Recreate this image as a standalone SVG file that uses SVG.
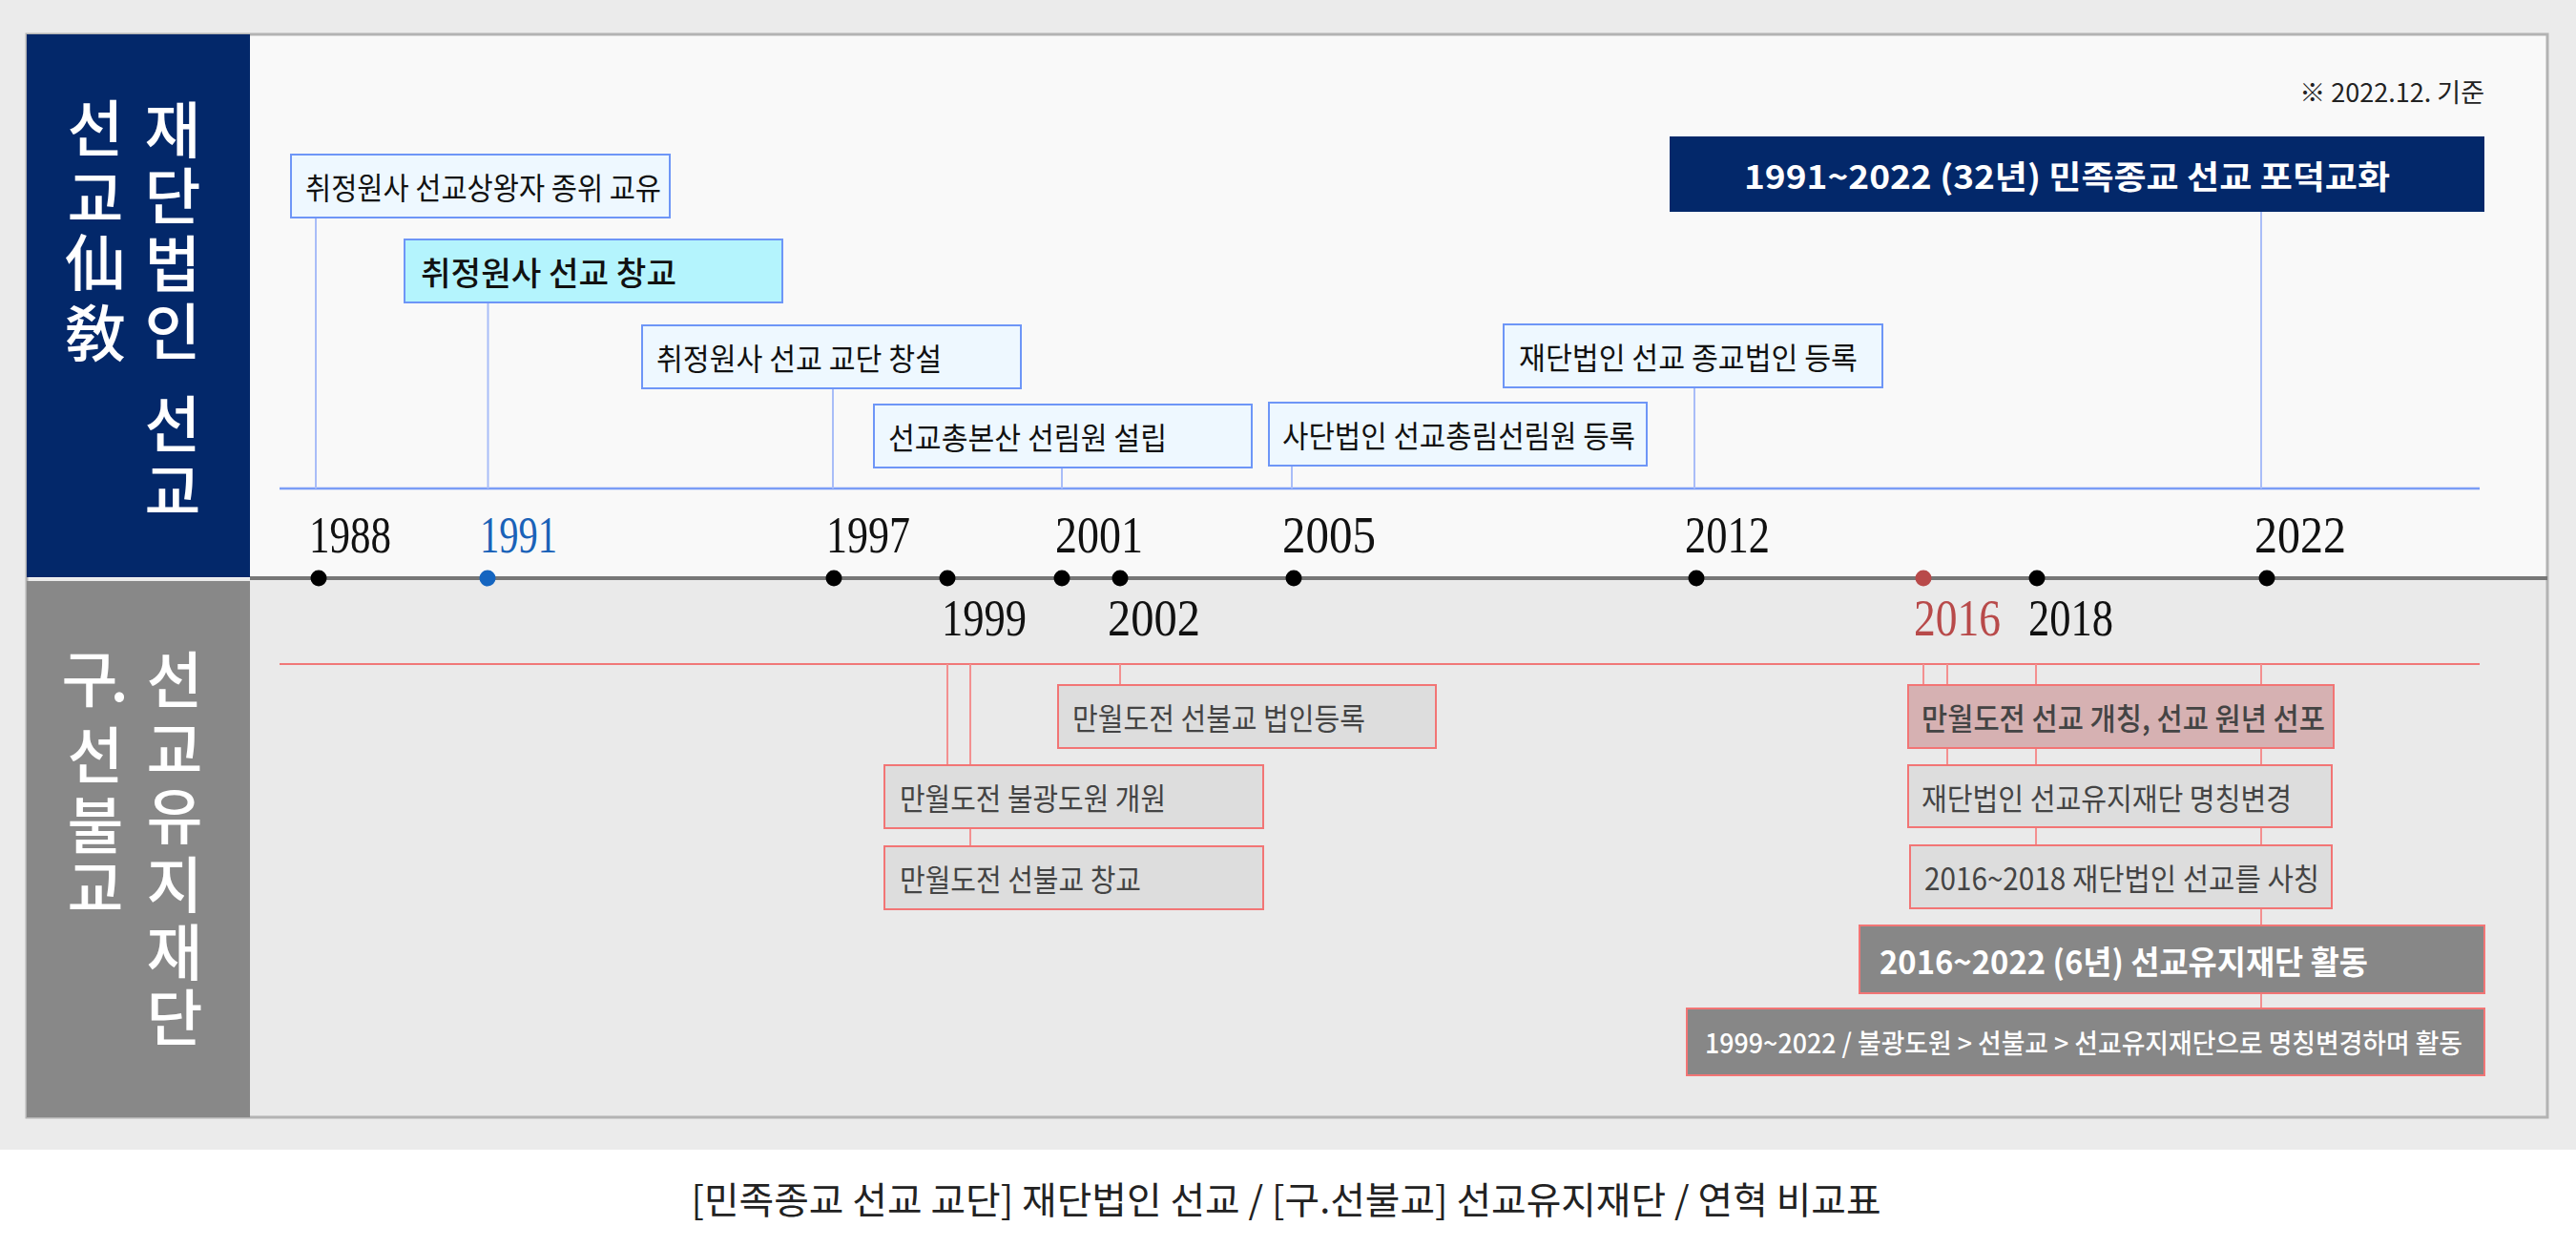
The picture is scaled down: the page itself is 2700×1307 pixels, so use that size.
<svg xmlns="http://www.w3.org/2000/svg" width="2700" height="1307" viewBox="0 0 2700 1307">
<style>
.kr{font-family:"Noto Sans CJK KR","Noto Sans",sans-serif;}
.yr{font-family:"Liberation Serif",serif;font-size:54px;fill:#111;}
.bt{font-family:"Noto Sans CJK KR","Noto Sans",sans-serif;font-size:32px;fill:#111;dominant-baseline:central;}
.rt{font-family:"Noto Sans CJK KR","Noto Sans",sans-serif;font-size:32px;fill:#444;dominant-baseline:central;}
.wt{font-family:"Noto Sans CJK KR","Noto Sans",sans-serif;font-size:34px;fill:#fff;font-weight:700;dominant-baseline:central;}
.vt{font-family:"Noto Sans CJK KR","Noto Sans",sans-serif;font-size:64px;fill:#fff;font-weight:500;text-anchor:middle;dominant-baseline:central;}
.bbox{fill:#eef8ff;stroke:#6e96f7;stroke-width:2;}
.rbox{fill:#dddddd;stroke:#f27575;stroke-width:2;}
.dbox{fill:#878787;stroke:#f27575;stroke-width:2;}
.bl{stroke:#a9bdf8;stroke-width:2;fill:none;}
.rl{stroke:#f39090;stroke-width:2;fill:none;}
.dot{fill:#000;}
</style>
<rect x="0" y="0" width="2700" height="1205" fill="#ebebeb"/>
<rect x="0" y="1205" width="2700" height="102" fill="#ffffff"/>
<rect x="28" y="36" width="2642" height="570" fill="#f9f9f9"/>
<rect x="28" y="606" width="2642" height="565" fill="#eaeaea"/>
<rect x="28" y="36" width="2642" height="1135" fill="none" stroke="#b3b3b3" stroke-width="3"/>

<g id="panel-top">
<rect x="28" y="36" width="234" height="569" fill="#03286a"/>
<text class="vt" x="100 100 100 100" y="130 204 271 345">선교仙敎</text>
<text class="vt" x="181 181 181 181 181 181" y="132 201 272 343 440 511">재단법인선교</text>
</g>
<g id="panel-bottom">
<rect x="28" y="609" width="234" height="562" fill="#888888"/>
<text class="vt" x="94 125 100 100 100" y="707 707 787 861 927">구.선불교</text>
<text class="vt" x="183 183 183 183 183 183" y="708 782 851 923 994 1062">선교유지재단</text>
</g>

<g id="connectors">
<line x1="262" y1="606" x2="2670" y2="606" stroke="#777" stroke-width="4"/>
<line x1="293" y1="512" x2="2599" y2="512" stroke="#7b9df6" stroke-width="2.5"/>
<line x1="293" y1="696" x2="2599" y2="696" stroke="#f07878" stroke-width="2"/>
<line class="bl" x1="331" y1="228" x2="331" y2="512"/>
<line class="bl" x1="511.5" y1="317" x2="511.5" y2="512"/>
<line class="bl" x1="873" y1="407" x2="873" y2="512"/>
<line class="bl" x1="1113" y1="490" x2="1113" y2="512"/>
<line class="bl" x1="1354" y1="488" x2="1354" y2="512"/>
<line class="bl" x1="1776" y1="406" x2="1776" y2="512"/>
<line class="bl" x1="2370" y1="222" x2="2370" y2="512"/>
<line class="rl" x1="993" y1="696" x2="993" y2="802"/>
<line class="rl" x1="1017" y1="696" x2="1017" y2="887"/>
<line class="rl" x1="1174" y1="696" x2="1174" y2="718"/>
<line class="rl" x1="2016" y1="696" x2="2016" y2="718"/>
<line class="rl" x1="2041" y1="696" x2="2041" y2="802"/>
<line class="rl" x1="2134" y1="696" x2="2134" y2="886"/>
<line class="rl" x1="2370" y1="696" x2="2370" y2="1057"/>
</g>

<g id="dots">
<circle class="dot" cx="334" cy="606" r="8.5"/>
<circle cx="511" cy="606" r="8.5" fill="#1565c0"/>
<circle class="dot" cx="874" cy="606" r="8.5"/>
<circle class="dot" cx="993" cy="606" r="8.5"/>
<circle class="dot" cx="1113" cy="606" r="8.5"/>
<circle class="dot" cx="1174" cy="606" r="8.5"/>
<circle class="dot" cx="1356" cy="606" r="8.5"/>
<circle class="dot" cx="1778" cy="606" r="8.5"/>
<circle cx="2016" cy="606" r="8.5" fill="#b84a4a"/>
<circle class="dot" cx="2135" cy="606" r="8.5"/>
<circle class="dot" cx="2376" cy="606" r="8.5"/>
</g>

<g id="years">
<text class="yr" x="324" y="579" textLength="86" lengthAdjust="spacingAndGlyphs">1988</text>
<text class="yr" x="503" y="579" textLength="81" lengthAdjust="spacingAndGlyphs" style="fill:#1a62b8">1991</text>
<text class="yr" x="866" y="579" textLength="88" lengthAdjust="spacingAndGlyphs">1997</text>
<text class="yr" x="1106" y="579" textLength="92" lengthAdjust="spacingAndGlyphs">2001</text>
<text class="yr" x="1344" y="579" textLength="98" lengthAdjust="spacingAndGlyphs">2005</text>
<text class="yr" x="1766" y="579" textLength="89" lengthAdjust="spacingAndGlyphs">2012</text>
<text class="yr" x="2363" y="579" textLength="96" lengthAdjust="spacingAndGlyphs">2022</text>
<text class="yr" x="987" y="666" textLength="89" lengthAdjust="spacingAndGlyphs">1999</text>
<text class="yr" x="1161" y="666" textLength="97" lengthAdjust="spacingAndGlyphs">2002</text>
<text class="yr" x="2006" y="666" textLength="91" lengthAdjust="spacingAndGlyphs" style="fill:#b84a4a">2016</text>
<text class="yr" x="2126" y="666" textLength="89" lengthAdjust="spacingAndGlyphs">2018</text>
</g>

<text class="kr" x="2604" y="95" font-size="27" fill="#222" text-anchor="end" dominant-baseline="central">※ 2022.12. 기준</text>

<g id="n1988">
<rect class="bbox" x="305" y="162" width="397" height="66"/>
<text class="bt" x="320" y="195" textLength="373" lengthAdjust="spacingAndGlyphs">취정원사 선교상왕자 종위 교유</text>
</g>
<g id="n1991">
<rect class="bbox" x="424" y="251" width="396" height="66" style="fill:#b4f4fd"/>
<text class="bt" x="441" y="284" textLength="268" lengthAdjust="spacingAndGlyphs" style="font-size:34px;font-weight:500">취정원사 선교 창교</text>
</g>
<g id="n1997">
<rect class="bbox" x="673" y="341" width="397" height="66"/>
<text class="bt" x="688" y="374" textLength="299" lengthAdjust="spacingAndGlyphs">취정원사 선교 교단 창설</text>
</g>
<g id="n2001">
<rect class="bbox" x="916" y="424" width="396" height="66"/>
<text class="bt" x="931" y="457" textLength="292" lengthAdjust="spacingAndGlyphs">선교총본산 선림원 설립</text>
</g>
<g id="n2005">
<rect class="bbox" x="1330" y="422" width="396" height="66"/>
<text class="bt" x="1344" y="455" textLength="370" lengthAdjust="spacingAndGlyphs">사단법인 선교총림선림원 등록</text>
</g>
<g id="n2012">
<rect class="bbox" x="1576" y="340" width="397" height="66"/>
<text class="bt" x="1592" y="373" textLength="355" lengthAdjust="spacingAndGlyphs">재단법인 선교 종교법인 등록</text>
</g>
<g id="n2022">
<rect x="1750" y="143" width="854" height="79" fill="#03286a"/>
<text class="wt" x="1828" y="183" textLength="677" lengthAdjust="spacingAndGlyphs">1991~2022 (32년)  민족종교 선교 포덕교화</text>
</g>

<g id="n2002b">
<rect class="rbox" x="1109" y="718" width="396" height="66"/>
<text class="rt" x="1124" y="751" textLength="307" lengthAdjust="spacingAndGlyphs">만월도전 선불교 법인등록</text>
</g>
<g id="n1999a">
<rect class="rbox" x="927" y="802" width="397" height="66"/>
<text class="rt" x="943" y="835" textLength="279" lengthAdjust="spacingAndGlyphs">만월도전 불광도원 개원</text>
</g>
<g id="n1999b">
<rect class="rbox" x="927" y="887" width="397" height="66"/>
<text class="rt" x="943" y="920" textLength="253" lengthAdjust="spacingAndGlyphs">만월도전 선불교 창교</text>
</g>
<g id="n2016a">
<rect class="rbox" x="2000" y="718" width="446" height="66" style="fill:#d6b1b2"/>
<text class="rt" x="2014" y="751" textLength="423" lengthAdjust="spacingAndGlyphs" style="font-weight:500">만월도전 선교 개칭, 선교 원년 선포</text>
</g>
<g id="n2016b">
<rect class="rbox" x="2000" y="802" width="444" height="65"/>
<text class="rt" x="2014" y="835" textLength="388" lengthAdjust="spacingAndGlyphs">재단법인 선교유지재단 명칭변경</text>
</g>
<g id="n2018">
<rect class="rbox" x="2002" y="886" width="442" height="66"/>
<text class="rt" x="2017" y="919" textLength="414" lengthAdjust="spacingAndGlyphs">2016~2018 재단법인 선교를 사칭</text>
</g>
<g id="n2016c">
<rect class="dbox" x="1949" y="970" width="655" height="71"/>
<text class="wt" x="1970" y="1006" textLength="512" lengthAdjust="spacingAndGlyphs">2016~2022 (6년) 선교유지재단 활동</text>
</g>
<g id="n1999c">
<rect class="dbox" x="1768" y="1057" width="836" height="70"/>
<text class="wt" x="1787" y="1092" textLength="794" lengthAdjust="spacingAndGlyphs" style="font-size:28px;font-weight:500">1999~2022 / 불광도원 &gt; 선불교 &gt; 선교유지재단으로 명칭변경하며 활동</text>
</g>

<text class="kr" x="1348" y="1255" font-size="39" fill="#222" text-anchor="middle" dominant-baseline="central" textLength="1247" lengthAdjust="spacingAndGlyphs">[민족종교 선교 교단] 재단법인 선교 / [구.선불교] 선교유지재단 / 연혁 비교표</text>
</svg>
